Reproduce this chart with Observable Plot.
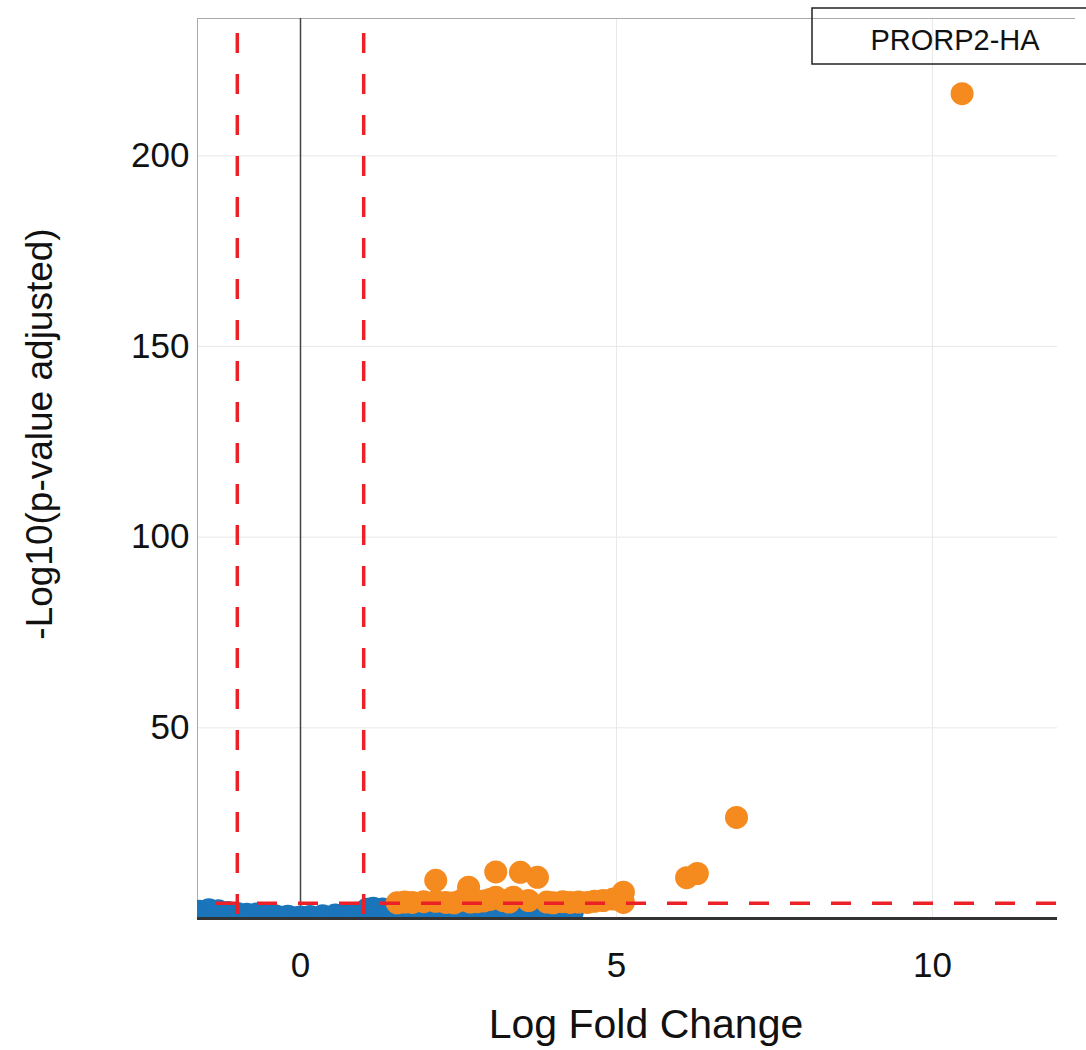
<!DOCTYPE html>
<html>
<head>
<meta charset="utf-8">
<script src="https://cdn.jsdelivr.net/npm/d3@7"></script>
<script src="https://cdn.jsdelivr.net/npm/@observablehq/plot@0.6"></script>
<style>
  html, body { margin: 0; padding: 0; background: #fff; }
  #chart { position: relative; width: 1086px; height: 1050px; }
</style>
</head>
<body>
<div id="chart"></div>
<script>
// ---- data ----
const legendLabel = "PRORP2-HA";
const xTitle = "Log Fold Change";
const yTitle = "-Log10(p-value adjusted)";
const xTicks = [0, 5, 10];
const yTicks = [50, 100, 150, 200];
const xDomain = [-1.63, 11.98];
const yDomain = [0, 236];
const fcThresholds = [-1, 1];
const pThreshold = 4;

// non-significant genes (blue)
const blueX = [-1.75,-1.7,-1.6,-1.55,-1.45,-1.4,-1.3,-1.25,-1.15,-1.1,
  -1.0,-0.95,-0.85,-0.8,-0.7,-0.65,-0.55,-0.5,
  -0.4,-0.3,-0.2,-0.1,0,0.05,0.15,0.25,0.35,0.45,
  0.55,0.65,0.75,0.85,0.95,1.0,
  1.05,1.15,1.2,1.3,1.35,1.45,
  1.6,1.75,1.9,2.0,2.15,2.3,2.45,2.6,2.75,2.9,3.05,3.2,3.35,3.45,3.5,3.65,3.8,3.85,3.95,4.1,4.25,4.3];
const blueY = [2.2,0.8,1.9,0.4,2.3,1.2,2.0,0.5,1.6,0.9,
  1.3,0.3,1.1,0.6,1.2,0.2,0.9,0.5,
  0.7,0.3,0.6,0.2,0.4,0.1,0.5,0.2,0.7,0.3,
  0.9,0.4,1.1,0.6,1.0,0.3,
  2.4,2.7,1.2,2.5,0.6,2.0,
  1.5,2.8,0.8,2.2,1.1,2.9,0.7,2.3,1.4,2.7,0.9,2.4,1.3,3.6,2.8,0.7,2.1,3.0,1.2,1.8,0.8,1.5];

// significant genes (orange)
const orangeX = [1.53,1.65,1.77,1.95,2.14,2.14,2.3,2.43,2.55,2.66,2.69,2.8,2.9,3.0,3.09,3.09,3.21,3.3,3.37,3.48,3.61,3.75,3.9,4.0,4.15,4.27,4.4,4.54,4.65,4.79,4.95,5.11,5.11,6.11,6.28,6.9,10.47];
const orangeY = [4.1,4.3,4.2,4.4,10.0,4.5,4.2,4.1,4.8,8.2,4.3,4.4,4.6,5.0,12.2,5.6,4.7,4.3,5.6,12.1,4.7,10.8,4.3,4.1,4.4,4.2,4.3,4.2,4.5,4.7,5.1,6.9,4.2,10.7,11.8,26.5,216.3];

const blue = blueX.map((x, i) => ({x, y: blueY[i]}));
const orange = orangeX.map((x, i) => ({x, y: orangeY[i]}));

const font = "'Liberation Sans', Arial, Helvetica, sans-serif";
const dash = "20,21";

const plot = Plot.plot({
  width: 1086,
  height: 1050,
  marginLeft: 197,
  marginRight: 29,
  marginTop: 18,
  marginBottom: 132,
  style: {fontFamily: font, fontSize: "35px", color: "#111", background: "#fff"},
  x: {domain: xDomain, label: null},
  y: {domain: yDomain, label: null},
  marks: [
    Plot.gridX([5, 10], {stroke: "#e8e8e8", strokeOpacity: 1, strokeWidth: 1}),
    Plot.gridY(yTicks, {stroke: "#e8e8e8", strokeOpacity: 1, strokeWidth: 1}),
    Plot.ruleX([xDomain[0]], {stroke: "#aaaaaa", strokeWidth: 1}),
    Plot.ruleY([yDomain[1]], {stroke: "#aaaaaa", strokeWidth: 1, insetRight: -18}),
    Plot.ruleX([0], {stroke: "#444", strokeWidth: 1.5}),
    Plot.dot(blue, {x: "x", y: "y", r: 11.5, fill: "#1b75bb", stroke: null, clip: true}),
    Plot.dot(orange, {x: "x", y: "y", r: 11.5, fill: "#f58a1f", stroke: null, clip: true}),
    Plot.ruleX(fcThresholds, {stroke: "#ec2027", strokeWidth: 3.5, strokeDasharray: dash, strokeDashoffset: 26}),
    Plot.ruleY([pThreshold], {stroke: "#ec2027", strokeWidth: 3.5, strokeDasharray: dash, strokeDashoffset: 22}),
    Plot.ruleY([0], {stroke: "#333", strokeWidth: 3}),
    Plot.axisX(xTicks, {tickSize: 0, tickPadding: 34, fontSize: 35, label: null}),
    Plot.axisY(yTicks, {tickSize: 0, tickPadding: 8, fontSize: 35, label: null})
  ]
});

const svg = d3.select(plot);
svg.append("text")
  .attr("x", 646).attr("y", 1038)
  .attr("text-anchor", "middle")
  .attr("font-family", font).attr("font-size", 41).attr("fill", "#111")
  .text(xTitle);
svg.append("text")
  .attr("transform", "translate(52,434) rotate(-90)")
  .attr("text-anchor", "middle")
  .attr("font-family", font).attr("font-size", 37).attr("fill", "#111")
  .text(yTitle);
// legend
svg.append("rect")
  .attr("x", 812).attr("y", 8).attr("width", 300).attr("height", 56)
  .attr("fill", "none").attr("stroke", "#222").attr("stroke-width", 1.5);
svg.append("text")
  .attr("x", 955).attr("y", 50)
  .attr("text-anchor", "middle")
  .attr("font-family", font).attr("font-size", 29).attr("fill", "#111")
  .text(legendLabel);

document.getElementById("chart").appendChild(plot);
</script>
</body>
</html>
